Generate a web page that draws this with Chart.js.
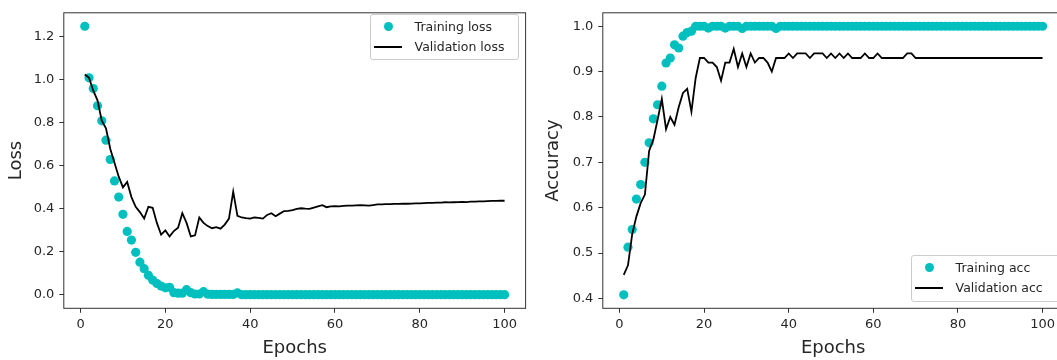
<!DOCTYPE html>
<html><head><meta charset="utf-8">
<script src="https://cdn.jsdelivr.net/npm/chart.js@4.4.1/dist/chart.umd.min.js"></script>
<style>
html,body{margin:0;padding:0;background:#fff;overflow:hidden;width:1057px;height:360px;}
.wrap{position:absolute;top:0;width:540px;height:360px;}
#w1{left:0}
#w2{left:540px}
.legend{position:absolute;background:rgba(255,255,255,0.8);border:1px solid #cccccc;border-radius:3px;box-sizing:border-box;font-family:'DejaVu Sans';font-size:12.5px;color:#262626;}
.legend .txt{position:absolute;white-space:nowrap;line-height:16px;height:16px;}
.legend .dot{position:absolute;width:9px;height:9px;border-radius:50%;}
.legend .ln{position:absolute;height:2px;}
</style>
</head><body>
<div class="wrap" id="w1"><canvas id="c1" width="540" height="360"></canvas></div>
<div class="wrap" id="w2"><canvas id="c2" width="540" height="360"></canvas></div>
<div class="legend" id="lg1" style="left:370px;top:14px;width:149px;height:46px;"></div>
<div class="legend" id="lg2" style="left:911px;top:255px;width:150px;height:47px;"></div>
<script>
const epochs = [1,2,3,4,5,6,7,8,9,10,11,12,13,14,15,16,17,18,19,20,21,22,23,24,25,26,27,28,29,30,31,32,33,34,35,36,37,38,39,40,41,42,43,44,45,46,47,48,49,50,51,52,53,54,55,56,57,58,59,60,61,62,63,64,65,66,67,68,69,70,71,72,73,74,75,76,77,78,79,80,81,82,83,84,85,86,87,88,89,90,91,92,93,94,95,96,97,98,99,100];

const trainLoss = [1.25,1.01,0.96,0.88,0.81,0.72,0.63,0.53,0.455,0.375,0.295,0.255,0.198,0.152,0.122,0.091,0.069,0.053,0.041,0.033,
0.035,0.010,0.008,0.008,0.024,0.010,0.004,0.004,0.015,0.003,0.002,0.002,0.002,0.002,0.002,0.002,0.009,0.001,0.001,0.001,
0.001,0.001,0.001,0.001,0.001,0.001,0.001,0.001,0.001,0.001,0.001,0.001,0.001,0.001,0.001,0.001,0.001,0.001,0.001,0.001,
0.001,0.001,0.001,0.001,0.001,0.001,0.001,0.001,0.001,0.001,0.001,0.001,0.001,0.001,0.001,0.001,0.001,0.001,0.001,0.001,
0.001,0.001,0.001,0.001,0.001,0.001,0.001,0.001,0.001,0.001,0.001,0.001,0.001,0.001,0.001,0.001,0.001,0.001,0.001,0.001];

const valLoss = [1.025,1.01,0.95,0.905,0.81,0.775,0.68,0.615,0.55,0.50,0.525,0.455,0.41,0.385,0.355,0.41,0.405,0.335,0.28,0.30,
0.272,0.297,0.312,0.38,0.335,0.272,0.277,0.36,0.335,0.32,0.31,0.315,0.308,0.327,0.355,0.48,0.368,0.36,0.357,0.355,
0.36,0.358,0.355,0.372,0.38,0.366,0.378,0.39,0.391,0.394,0.40,0.403,0.401,0.40,0.406,0.412,0.417,0.408,0.412,0.413,
0.412,0.414,0.415,0.415,0.416,0.417,0.416,0.415,0.418,0.421,0.421,0.422,0.422,0.423,0.423,0.424,0.424,0.425,0.426,0.426,
0.427,0.428,0.428,0.429,0.429,0.431,0.430,0.431,0.432,0.433,0.432,0.434,0.434,0.435,0.435,0.436,0.437,0.437,0.438,0.438];

const trainAcc = [0.408,0.513,0.552,0.619,0.651,0.70,0.743,0.796,0.827,0.868,0.919,0.93,0.959,0.952,0.978,0.986,0.989,1.0,1.0,1.0,
0.996,1.0,1.0,1.0,0.996,1.0,1.0,1.0,0.995,1.0,1.0,1.0,1.0,1.0,1.0,1.0,0.995,1.0,1.0,1.0,
1.0,1.0,1.0,1.0,1.0,1.0,1.0,1.0,1.0,1.0,1.0,1.0,1.0,1.0,1.0,1.0,1.0,1.0,1.0,1.0,
1.0,1.0,1.0,1.0,1.0,1.0,1.0,1.0,1.0,1.0,1.0,1.0,1.0,1.0,1.0,1.0,1.0,1.0,1.0,1.0,
1.0,1.0,1.0,1.0,1.0,1.0,1.0,1.0,1.0,1.0,1.0,1.0,1.0,1.0,1.0,1.0,1.0,1.0,1.0,1.0];

const valAcc = [0.452,0.473,0.542,0.581,0.61,0.629,0.725,0.75,0.794,0.84,0.773,0.80,0.783,0.822,0.853,0.862,0.812,0.886,0.93,0.93,
0.92,0.92,0.91,0.88,0.92,0.92,0.95,0.91,0.94,0.91,0.94,0.92,0.93,0.93,0.92,0.90,0.93,0.93,0.93,0.94,
0.93,0.94,0.94,0.94,0.93,0.94,0.94,0.94,0.93,0.94,0.93,0.94,0.93,0.94,0.93,0.93,0.93,0.94,0.93,0.93,
0.94,0.93,0.93,0.93,0.93,0.93,0.93,0.94,0.94,0.93,0.93,0.93,0.93,0.93,0.93,0.93,0.93,0.93,0.93,0.93,
0.93,0.93,0.93,0.93,0.93,0.93,0.93,0.93,0.93,0.93,0.93,0.93,0.93,0.93,0.93,0.93,0.93,0.93,0.93,0.93];

const xTicks = [0,20,40,60,80,100];
const lossTicks = [0.0,0.2,0.4,0.6,0.8,1.0,1.2];
const accTicks = [0.4,0.5,0.6,0.7,0.8,0.9,1.0];

const FONT = "'DejaVu Sans', sans-serif";
const TXT = '#262626';
const CYAN = '#00bfbf';

const boxPlugin = {
  id: 'axbox',
  afterDatasetsDraw(chart) {
    const {ctx, chartArea: a} = chart;
    ctx.save();
    ctx.strokeStyle = '#333';
    ctx.lineWidth = 1;
    ctx.strokeRect(a.left, a.top, a.right - a.left, a.bottom - a.top);
    ctx.restore();
  }
};

function pts(ys) { return epochs.map((e, i) => ({x: e, y: ys[i]})); }

function makeChart(id, trainLabel, trainData, valLabel, valData, yLabel, yMin, yMax, yTicks, area, titlePad) {
  const ctx = document.getElementById(id);
  return new Chart(ctx, {
    type: 'line',
    data: {
      datasets: [
        {label: trainLabel, data: pts(trainData), showLine: false, pointRadius: 4.6, pointHoverRadius: 4.6,
         pointBackgroundColor: CYAN, pointBorderWidth: 0, borderColor: CYAN, backgroundColor: CYAN, order: 1},
        {label: valLabel, data: pts(valData), pointRadius: 0, borderColor: '#000', borderWidth: 1.8,
         tension: 0, fill: false, order: 0}
      ]
    },
    options: {
      responsive: false, animation: false, devicePixelRatio: 1,
      layout: {padding: {left: 0, top: area.top, right: 540 - area.right, bottom: 0}},
      plugins: {legend: {display: false}, tooltip: {enabled: false}},
      events: [],
      scales: {
        x: {
          type: 'linear', min: -3.95, max: 104.95,
          afterBuildTicks: s => { s.ticks = xTicks.map(v => ({value: v})); },
          afterFit: s => { s.height = 360 - area.bottom; },
          grid: {drawOnChartArea: false, drawTicks: true, tickLength: 4.5, color: '#333', lineWidth: 1},
          border: {display: false},
          ticks: {color: TXT, font: {family: FONT, size: 13}, padding: 4, maxRotation: 0, autoSkip: false,
                  callback: v => String(v)},
          title: {display: true, text: 'Epochs', color: TXT, font: {family: FONT, size: 18}, padding: {top: 0, bottom: 1}}
        },
        y: {
          type: 'linear', min: yMin, max: yMax,
          afterBuildTicks: s => { s.ticks = yTicks.map(v => ({value: v})); },
          afterFit: s => { s.width = area.left; },
          grid: {drawOnChartArea: false, drawTicks: true, tickLength: 4.5, color: '#333', lineWidth: 1},
          border: {display: false},
          ticks: {color: TXT, font: {family: FONT, size: 13}, padding: 5, autoSkip: false,
                  callback: v => Number(v).toFixed(1)},
          title: {display: true, text: yLabel, color: TXT, font: {family: FONT, size: 18}, padding: {top: titlePad, bottom: 0}}
        }
      }
    },
    plugins: [boxPlugin]
  });
}

const ch1 = makeChart('c1', 'Training loss', trainLoss, 'Validation loss', valLoss, 'Loss',
  -0.0625, 1.3125, lossTicks, {left: 63.8, right: 525.6, top: 7.3, bottom: 308.3}, 6);
const ch2 = makeChart('c2', 'Training acc', trainAcc, 'Validation acc', valAcc, 'Accuracy',
  0.3784, 1.0296, accTicks, {left: 62.8, right: 523.5, top: 7.3, bottom: 308.3}, 2.5);

function buildLegend(el, chart) {
  const ds = chart.data.datasets;
  const r0 = document.createElement('div'); r0.className = 'dot';
  r0.style.left = (18.8 - 4.5 - 1) + 'px'; r0.style.top = (12.7 - 4.5 - 1) + 'px'; r0.style.background = ds[0].pointBackgroundColor;
  el.appendChild(r0);
  const t0 = document.createElement('div'); t0.className = 'txt'; t0.textContent = ds[0].label;
  t0.style.left = (44.6 - 1) + 'px'; t0.style.top = (12.7 - 8 - 1) + 'px'; el.appendChild(t0);
  const l1 = document.createElement('div'); l1.className = 'ln';
  l1.style.left = (4.4 - 1) + 'px'; l1.style.width = '28px'; l1.style.top = (32.7 - 1 - 1) + 'px'; l1.style.background = ds[1].borderColor;
  el.appendChild(l1);
  const t1 = document.createElement('div'); t1.className = 'txt'; t1.textContent = ds[1].label;
  t1.style.left = (44.6 - 1) + 'px'; t1.style.top = (32.7 - 8 - 1) + 'px'; el.appendChild(t1);
}
buildLegend(document.getElementById('lg1'), ch1);
buildLegend(document.getElementById('lg2'), ch2);
</script>
</body></html>
